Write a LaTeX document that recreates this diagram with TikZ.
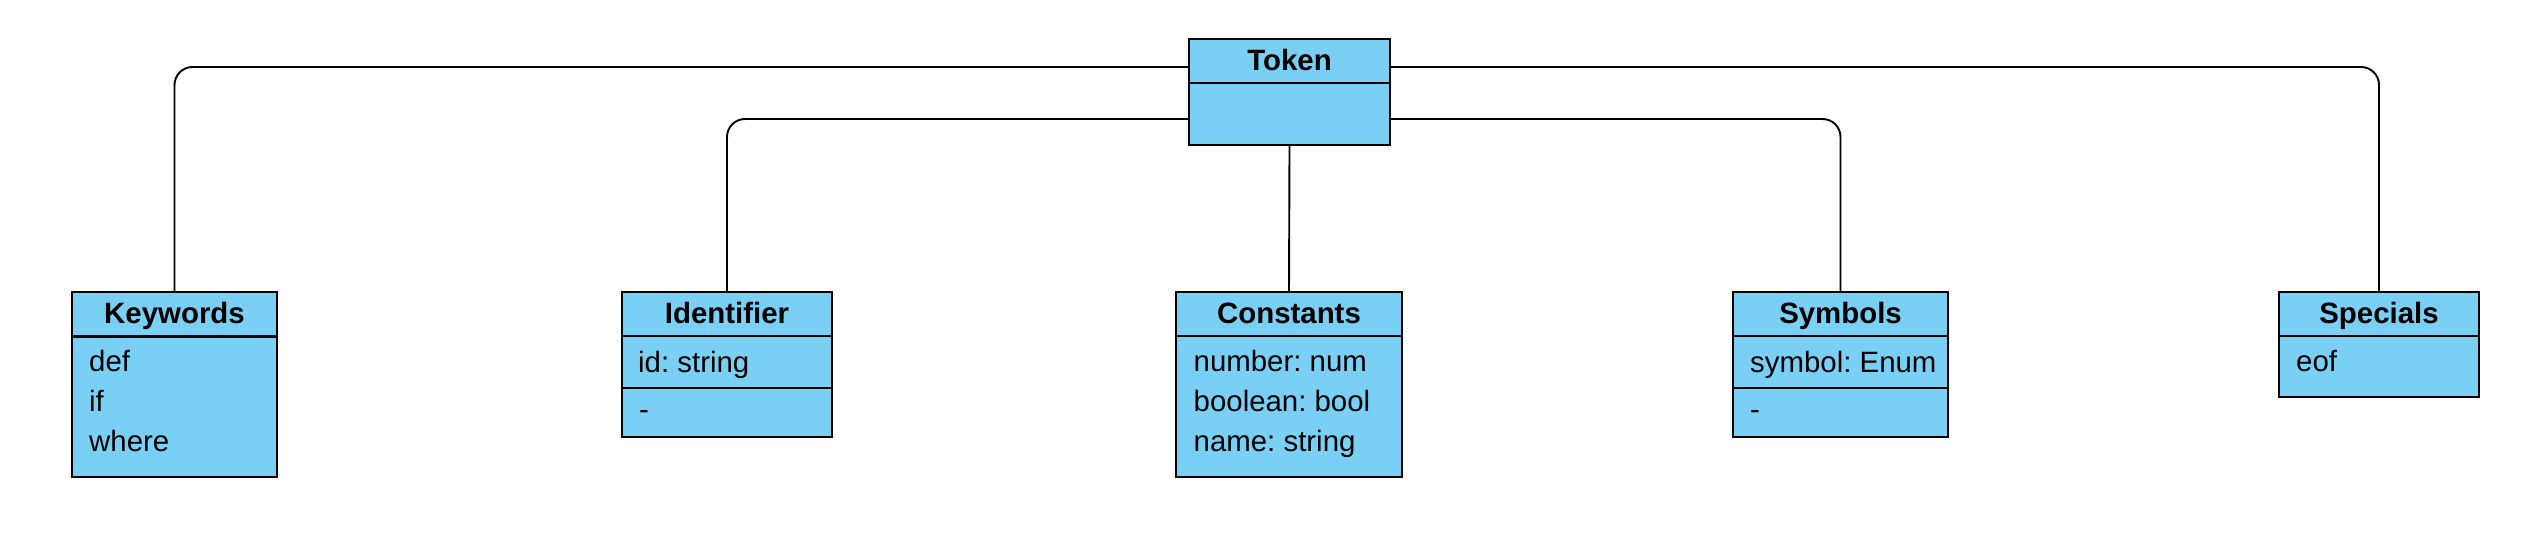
\documentclass[tikz,border=0pt]{standalone}
\usepackage{fontspec}
\setmainfont{Liberation Sans}
\definecolor{clsfill}{RGB}{122,207,245}
\frenchspacing
\begin{document}
\begin{tikzpicture}[x=1pt,y=-1pt,
  box/.style={draw=black, fill=clsfill, line width=2.2pt, anchor=north west, inner sep=0pt, outer sep=0pt},
  hdr/.style={box, font=\fontsize{29.4}{34}\selectfont\bfseries, text height=20pt, text depth=1pt},
  attr/.style={anchor=base west, inner sep=0pt, font=\fontsize{29.4}{34}\selectfont},
  conn/.style={draw=black, line width=1.9pt, rounded corners=18pt}]
\useasboundingbox (0,0) rectangle (2539,535);

% Token
\node[hdr, minimum width=201pt, minimum height=44pt] (tokh) at (1189,39) {Token};
\node[box, minimum width=201pt, minimum height=62pt] (tokb) at (1189,83) {};

% Keywords
\node[hdr, minimum width=205pt, minimum height=44.5pt] (kwh) at (72,292) {Keywords};
\node[box, minimum width=205pt, minimum height=140.5pt] (kwb) at (72,336.5) {};
\node[attr] (kw1) at (89,371.7) {def};
\node[attr] (kw2) at (89,411.7) {if};
\node[attr] (kw3) at (89,451.7) {where};

% Identifier
\node[hdr, minimum width=210pt, minimum height=44pt] (idh) at (622,292) {Identifier};
\node[box, minimum width=210pt, minimum height=52.3pt] (ida) at (622,336) {};
\node[box, minimum width=210pt, minimum height=49pt] (idm) at (622,388.3) {};
\node[attr] (id1) at (638,372.3) {id: string};
\node[attr] (id2) at (639,419) {-};

% Constants
\node[hdr, minimum width=226pt, minimum height=44pt] (coh) at (1176,292) {Constants};
\node[box, minimum width=226pt, minimum height=141pt] (cob) at (1176,336) {};
\node[attr] (co1) at (1193.5,371.7) {number: num};
\node[attr] (co2) at (1193.5,411.7) {boolean: bool};
\node[attr] (co3) at (1193.5,451.7) {name: string};

% Symbols
\node[hdr, minimum width=215pt, minimum height=44pt] (syh) at (1733,292) {Symbols};
\node[box, minimum width=215pt, minimum height=52.3pt] (sya) at (1733,336) {};
\node[box, minimum width=215pt, minimum height=49pt] (sym) at (1733,388.3) {};
\node[attr] (sy1) at (1750,372.3) {symbol: Enum};
\node[attr] (sy2) at (1750,419) {-};

% Specials
\node[hdr, minimum width=200pt, minimum height=44pt] (sph) at (2279,292) {Specials};
\node[box, minimum width=200pt, minimum height=61pt] (spb) at (2279,336) {};
\node[attr] (sp1) at (2296,371) {eof};

% Connectors
\draw[conn] ([yshift=-6pt]tokh.west) -| (kwh.north);
\draw[conn] ([yshift=-5pt]tokb.west) -| (idh.north);
\draw[conn] (tokb.south) -- (coh.north);
\draw[conn] ([yshift=-5pt]tokb.east) -| (syh.north);
\draw[conn] ([yshift=-6pt]tokh.east) -| (sph.north);
\end{tikzpicture}
\end{document}
